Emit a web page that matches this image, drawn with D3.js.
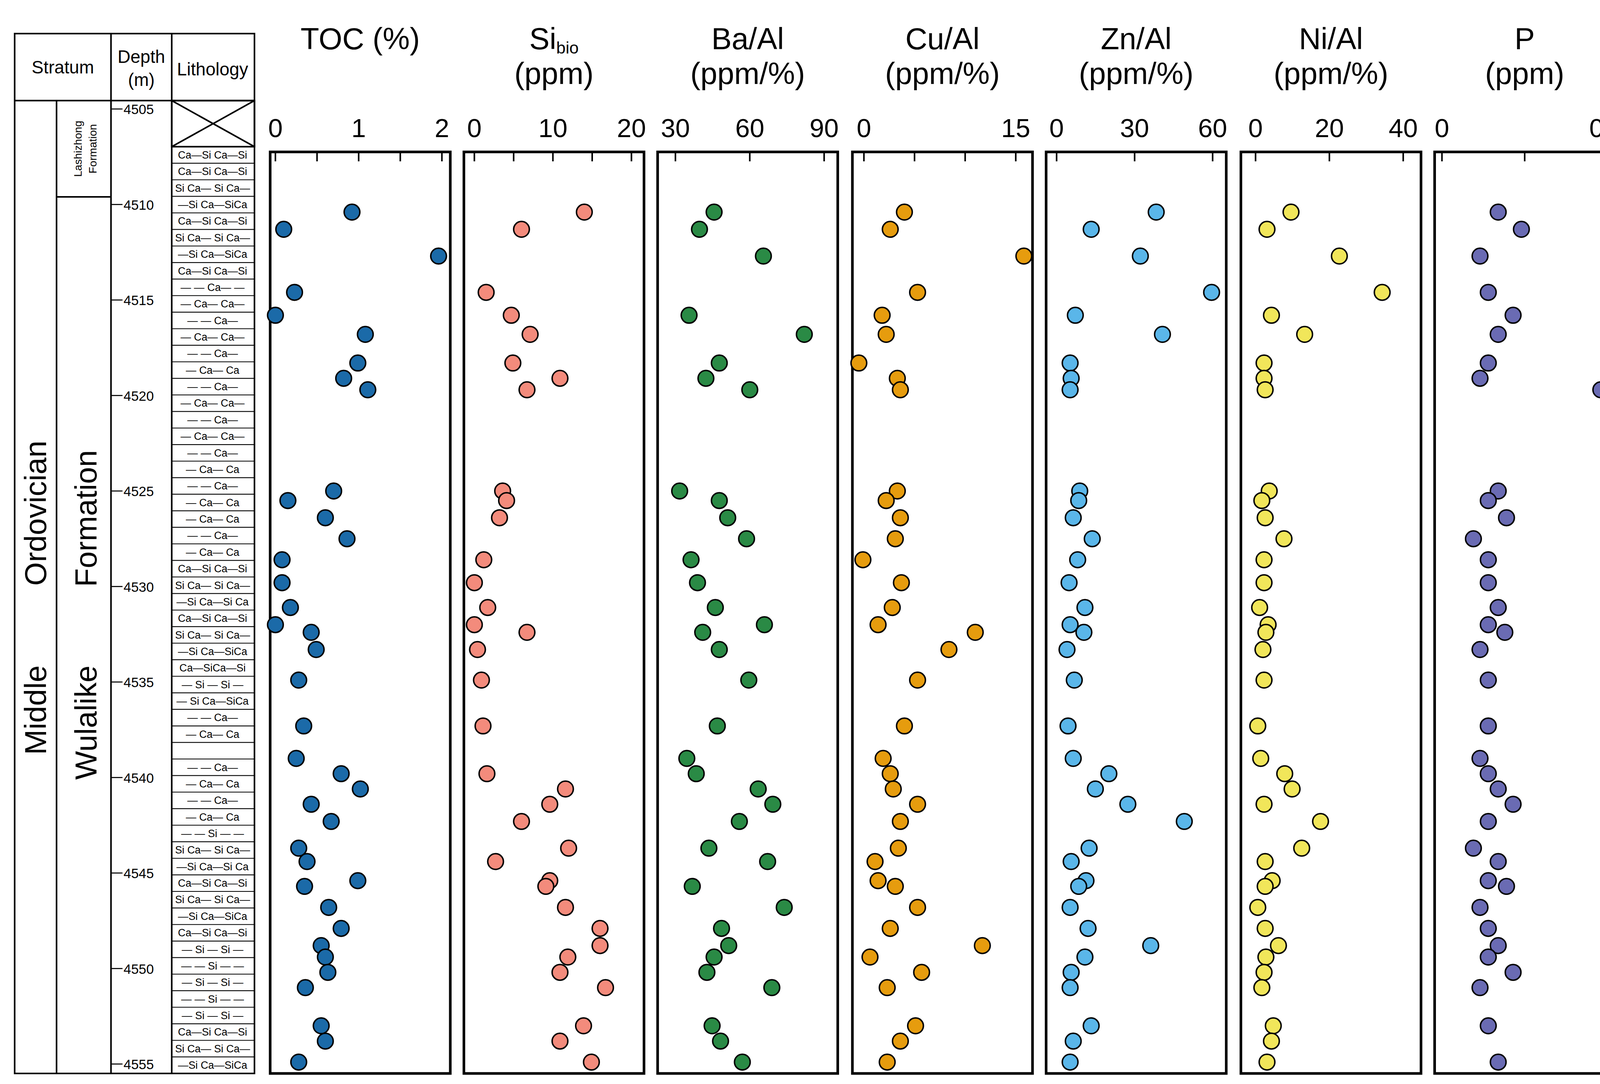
<!DOCTYPE html>
<html><head><meta charset="utf-8">
<script src="https://cdn.jsdelivr.net/npm/d3@7"></script>
<style>html,body{margin:0;padding:0;background:#fff;overflow:hidden}svg{display:block;position:absolute;left:0;top:0}text{font-family:"Liberation Sans",Arial,sans-serif}</style>
</head><body>
<script>
// sample depths (m)
var depths = [4510.4,4511.3,4512.7,4514.6,4515.8,4516.8,4518.3,4519.1,4519.7,4525.0,4525.5,4526.4,4527.5,4528.6,4529.8,4531.1,4532.0,4532.4,4533.3,4534.9,4537.3,4539.0,4539.8,4540.6,4541.4,4542.3,4543.7,4544.4,4545.4,4545.7,4546.8,4547.9,4548.8,4549.4,4550.2,4551.0,4553.0,4553.8,4554.9];
var toc = [0.92,0.10,1.96,0.23,0.0,1.08,0.99,0.82,1.11,0.70,0.15,0.60,0.86,0.08,0.08,0.18,0.0,0.43,0.49,0.28,0.34,0.25,0.79,1.02,0.43,0.67,0.28,0.38,0.99,0.35,0.64,0.79,0.55,0.60,0.63,0.36,0.55,0.60,0.28];
var sibio = [14.0,6.0,null,1.5,4.7,7.1,4.9,10.9,6.7,3.6,4.1,3.2,null,1.2,0,1.7,0,6.7,0.4,0.9,1.1,null,1.6,11.6,9.6,6.0,12.0,2.7,9.6,9.1,11.6,16.0,16.0,11.9,10.9,16.7,13.9,10.9,14.9];
var baAl = [45.6,39.7,65.5,null,35.5,82.0,47.7,42.3,60.0,31.7,47.7,51.1,58.7,36.3,38.9,46.1,65.9,41.0,47.7,59.6,46.9,34.6,38.4,63.4,69.3,55.8,43.5,67.2,null,36.8,73.9,48.6,51.5,45.6,42.7,68.9,44.8,48.2,57.0];
var cuAl = [4.0,2.6,15.8,5.3,1.8,2.2,-0.5,3.3,3.6,3.3,2.2,3.6,3.1,-0.1,3.7,2.8,1.4,11.0,8.4,5.3,4.0,1.9,2.6,2.9,5.3,3.6,3.4,1.1,1.4,3.1,5.3,2.6,11.7,0.6,5.7,2.3,5.1,3.6,2.3];
var znAl = [38.3,13.3,32.2,59.6,7.2,40.7,5.2,5.6,5.2,8.9,8.5,6.4,13.7,8.1,4.8,10.9,5.2,10.5,4.0,6.8,4.4,6.4,20.1,14.9,27.4,49.1,12.5,5.6,11.3,8.5,5.2,12.1,36.2,10.9,5.6,5.2,13.3,6.4,5.2];
var niAl = [9.6,3.1,22.7,34.3,4.3,13.3,2.3,2.3,2.6,3.7,1.7,2.6,7.7,2.3,2.3,1.1,3.4,2.8,2.0,2.3,0.6,1.4,7.9,9.9,2.3,17.6,12.5,2.6,4.5,2.6,0.6,2.6,6.2,2.8,2.3,1.7,4.8,4.3,3.1];
var pVal = [0.034,0.048,0.023,0.028,0.043,0.034,0.028,0.023,0.096,0.034,0.028,0.039,0.019,0.028,0.028,0.034,0.028,0.038,0.023,0.028,0.028,0.023,0.028,0.034,0.043,0.028,0.019,0.034,0.028,0.039,0.023,0.028,0.034,0.028,0.043,0.023,0.028,0.101,0.034];
var depthTicks = [4505,4510,4515,4520,4525,4530,4535,4540,4545,4550,4555];
var lithoRows = ["Ca\u2014Si Ca\u2014Si","Ca\u2014Si Ca\u2014Si","Si Ca\u2014 Si Ca\u2014","\u2014Si Ca\u2014SiCa","Ca\u2014Si Ca\u2014Si","Si Ca\u2014 Si Ca\u2014","\u2014Si Ca\u2014SiCa","Ca\u2014Si Ca\u2014Si",
 "\u2014 \u2014 Ca\u2014 \u2014","\u2014 Ca\u2014 Ca\u2014","\u2014 \u2014 Ca\u2014","\u2014 Ca\u2014 Ca\u2014","\u2014 \u2014 Ca\u2014","\u2014 Ca\u2014 Ca","\u2014 \u2014 Ca\u2014","\u2014 Ca\u2014 Ca\u2014","\u2014 \u2014 Ca\u2014","\u2014 Ca\u2014 Ca\u2014","\u2014 \u2014 Ca\u2014","\u2014 Ca\u2014 Ca","\u2014 \u2014 Ca\u2014","\u2014 Ca\u2014 Ca","\u2014 Ca\u2014 Ca","\u2014 \u2014 Ca\u2014","\u2014 Ca\u2014 Ca",
 "Ca\u2014Si Ca\u2014Si","Si Ca\u2014 Si Ca\u2014","\u2014Si Ca\u2014Si Ca","Ca\u2014Si Ca\u2014Si","Si Ca\u2014 Si Ca\u2014","\u2014Si Ca\u2014SiCa","Ca\u2014SiCa\u2014Si","\u2014 Si \u2014 Si \u2014","\u2014 Si Ca\u2014SiCa",
 "\u2014 \u2014 Ca\u2014","\u2014 Ca\u2014 Ca","","\u2014 \u2014 Ca\u2014","\u2014 Ca\u2014 Ca","\u2014 \u2014 Ca\u2014","\u2014 Ca\u2014 Ca","\u2014 \u2014 Si \u2014 \u2014",
 "Si Ca\u2014 Si Ca\u2014","\u2014Si Ca\u2014Si Ca","Ca\u2014Si Ca\u2014Si","Si Ca\u2014 Si Ca\u2014","\u2014Si Ca\u2014SiCa","Ca\u2014Si Ca\u2014Si","\u2014 Si \u2014 Si \u2014","\u2014 \u2014 Si \u2014 \u2014","\u2014 Si \u2014 Si \u2014","\u2014 \u2014 Si \u2014 \u2014","\u2014 Si \u2014 Si \u2014","Ca\u2014Si Ca\u2014Si","Si Ca\u2014 Si Ca\u2014","\u2014Si Ca\u2014SiCa"];

var panels = [
  {vals: toc, x0: 258, r0: 263, r1: 422, dom: [0,2], labels: [0,1,2], ticks: [0.5,1.5], color: "#1b6aa8", t1: "TOC (%)"},
  {vals: sibio, x0: 443, r0: 453, r1: 603, dom: [0,20], labels: [0,10,20], ticks: [5,15], color: "#f38b7c", t1: "Si", sub: "bio", t2: "(ppm)"},
  {vals: baAl, x0: 628, r0: 645, r1: 787, dom: [30,90], labels: [30,60,90], ticks: [], color: "#2a8a45", t1: "Ba/Al", t2: "(ppm/%)"},
  {vals: cuAl, x0: 814, r0: 825, r1: 970, dom: [0,15], labels: [0,15], ticks: [5,10], color: "#e69c0e", t1: "Cu/Al", t2: "(ppm/%)"},
  {vals: znAl, x0: 999, r0: 1009, r1: 1158, dom: [0,60], labels: [0,30,60], ticks: [], color: "#5ab6e9", t1: "Zn/Al", t2: "(ppm/%)"},
  {vals: niAl, x0: 1185, r0: 1199, r1: 1340, dom: [0,40], labels: [0,20,40], ticks: [], color: "#f1e65a", t1: "Ni/Al", t2: "(ppm/%)"},
  {vals: pVal, x0: 1370, r0: 1377, r1: 1535, dom: [0,0.1], labels: [0,0.1], ticks: [0.05], color: "#6a6bb3", t1: "P", t2: "(ppm)"}
];

var svg = d3.select("body").append("svg").attr("width", 4182).attr("height", 2775)
  .attr("viewBox", "0 0 1560 1035");

var y = d3.scaleLinear().domain([4505, 4555]).range([104, 1016]);

// ---- left table
var tb = svg.append("g").attr("stroke", "#000").attr("fill", "none").attr("stroke-width", 1.5);
tb.append("rect").attr("x", 14).attr("y", 32).attr("width", 229).attr("height", 993);
tb.append("line").attr("x1", 14).attr("x2", 243).attr("y1", 96).attr("y2", 96);
tb.append("line").attr("x1", 106).attr("x2", 106).attr("y1", 32).attr("y2", 1025);
tb.append("line").attr("x1", 164).attr("x2", 164).attr("y1", 32).attr("y2", 1025);
tb.append("line").attr("x1", 54).attr("x2", 54).attr("y1", 96).attr("y2", 1025);
tb.append("line").attr("x1", 54).attr("x2", 106).attr("y1", y(4509.6)).attr("y2", y(4509.6));
// cross box
tb.append("rect").attr("x", 164).attr("y", 96).attr("width", 79).attr("height", 44);
tb.append("line").attr("x1", 164).attr("y1", 96).attr("x2", 243).attr("y2", 140);
tb.append("line").attr("x1", 243).attr("y1", 96).attr("x2", 164).attr("y2", 140);

var hdr = svg.append("g").attr("font-size", 17).attr("text-anchor", "middle");
hdr.append("text").attr("x", 60).attr("y", 70).text("Stratum");
hdr.append("text").attr("x", 135).attr("y", 60).text("Depth");
hdr.append("text").attr("x", 135).attr("y", 82).text("(m)");
hdr.append("text").attr("x", 203).attr("y", 72).text("Lithology");

function vtext(x, yy, s, fs) {
  svg.append("text").attr("transform", "translate(" + x + "," + yy + ") rotate(-90)")
    .attr("text-anchor", "middle").attr("font-size", fs).text(s);
}
vtext(44, 490, "Ordovician", 29);
vtext(44, 678, "Middle", 29);
vtext(92, 495, "Formation", 29);
vtext(92, 690, "Wulalike", 29);
vtext(78, 142, "Lashizhong", 10.5);
vtext(92, 142, "Formation", 10.5);

// depth ticks
var dt = svg.append("g").selectAll("g").data(depthTicks).join("g");
dt.append("line").attr("x1", 106).attr("x2", 117).attr("y1", d => y(d)).attr("y2", d => y(d))
  .attr("stroke", "#000").attr("stroke-width", 1);
dt.append("text").attr("x", 118).attr("y", d => y(d) + 5).attr("font-size", 13).text(d => d);

// lithology rows
var rowH = (1025 - 140) / lithoRows.length;
var lr = svg.append("g").selectAll("g").data(lithoRows).join("g");
lr.append("line").attr("x1", 164).attr("x2", 243).attr("y1", (d, i) => 140 + (i + 1) * rowH)
  .attr("y2", (d, i) => 140 + (i + 1) * rowH).attr("stroke", "#000").attr("stroke-width", 0.8);
lr.append("text").attr("x", 203).attr("y", (d, i) => 140 + (i + 0.72) * rowH)
  .attr("text-anchor", "middle").attr("font-size", 10).text(d => d);

// ---- panels
panels.forEach(function (p) {
  var g = svg.append("g");
  var x = d3.scaleLinear().domain(p.dom).range([p.r0, p.r1]);
  g.append("rect").attr("x", p.x0).attr("y", 145).attr("width", 172).attr("height", 880)
    .attr("fill", "none").attr("stroke", "#000").attr("stroke-width", 2.5);
  var cx = (p.x0 + 86);
  var t = g.append("text").attr("x", cx).attr("y", 57).attr("text-anchor", "middle").attr("font-size", 29).text(p.t1);
  if (p.sub) t.append("tspan").attr("font-size", 16).attr("dy", 4).text(p.sub);
  if (p.t2) {
    g.append("text").attr("x", cx).attr("y", 76).attr("text-anchor", "middle").attr("font-size", 29).text(p.t2);
  }
  g.selectAll(".lab").data(p.labels).join("text").attr("x", d => x(d)).attr("y", 131)
    .attr("text-anchor", "middle").attr("font-size", 25).text(d => d);
  g.selectAll(".tk").data(p.labels.concat(p.ticks)).join("line")
    .attr("x1", d => x(d)).attr("x2", d => x(d)).attr("y1", 145).attr("y2", 154)
    .attr("stroke", "#000").attr("stroke-width", 1.5);
  var pts = depths.map((d, i) => ({d: d, v: p.vals[i]})).filter(o => o.v != null);
  g.selectAll("circle").data(pts).join("circle")
    .attr("cx", o => x(o.v)).attr("cy", o => y(o.d)).attr("r", 7.5)
    .attr("fill", p.color).attr("stroke", "#000").attr("stroke-width", 1.4);
});

// shift title lines apart
svg.selectAll("text").filter(function () { return +this.getAttribute("y") === 57 && this.getAttribute("font-size") == 29; })
  .attr("y", function () { return 47 + 0; });
svg.selectAll("text").filter(function () { return +this.getAttribute("y") === 76 && this.getAttribute("font-size") == 29; })
  .attr("y", 80);
</script>
</body></html>
